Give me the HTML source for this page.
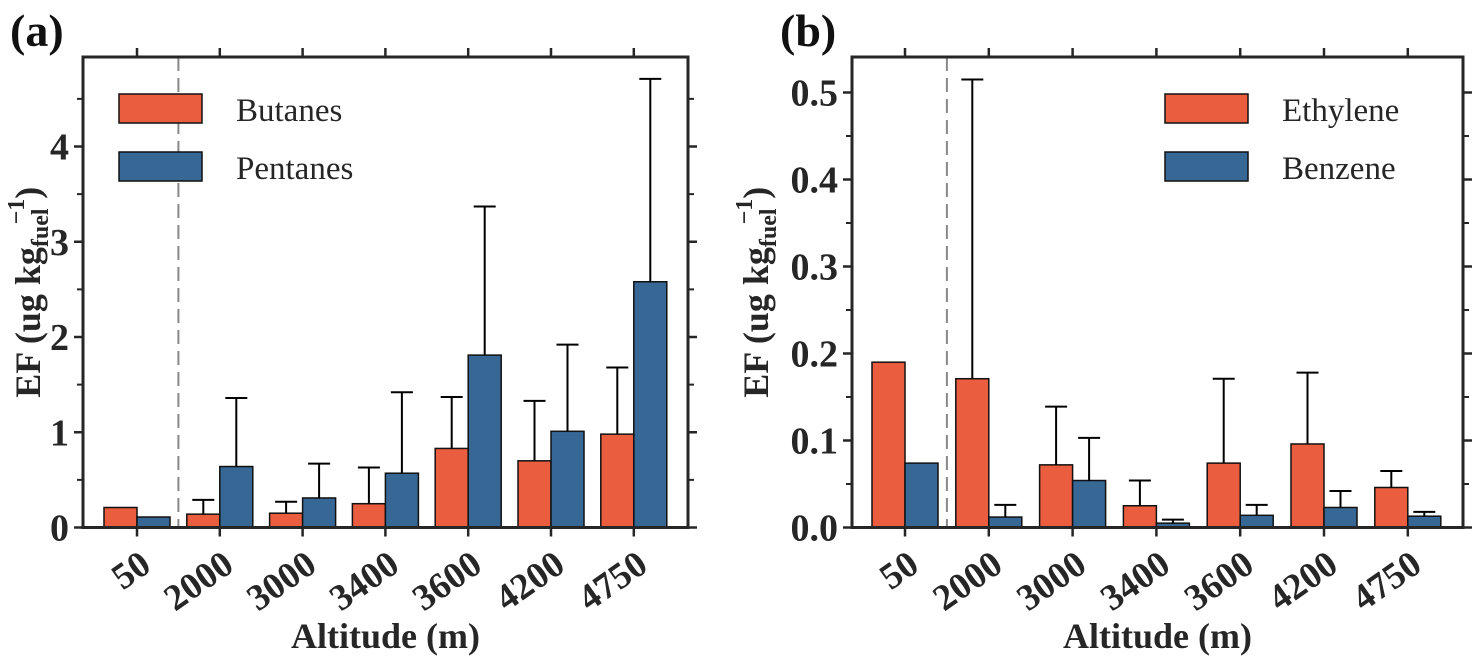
<!DOCTYPE html>
<html><head><meta charset="utf-8"><style>
html,body{margin:0;padding:0;background:#fff;}
svg text{font-family:"Liberation Serif","Times New Roman",serif;}
</style></head><body>
<svg id="chart" width="1477" height="660" viewBox="0 0 1477 660" xmlns="http://www.w3.org/2000/svg"></svg>
<script>
const categories = ["50","2000","3000","3400","3600","4200","4750"];
const butanes = [0.21,0.14,0.15,0.25,0.83,0.70,0.98];
const butanesErrTop = [null,0.29,0.27,0.63,1.37,1.33,1.68];
const pentanes = [0.11,0.64,0.31,0.57,1.81,1.01,2.58];
const pentanesErrTop = [null,1.36,0.67,1.42,3.37,1.92,4.71];
const ethylene = [0.19,0.171,0.072,0.025,0.074,0.096,0.046];
const ethyleneErrTop = [null,0.515,0.139,0.054,0.171,0.178,0.065];
const benzene = [0.074,0.012,0.054,0.005,0.014,0.023,0.013];
const benzeneErrTop = [null,0.026,0.103,0.009,0.026,0.042,0.018];
const ticksA = ["0","1","2","3","4"];
const ticksB = ["0.0","0.1","0.2","0.3","0.4","0.5"];

const svg = document.getElementById('chart');
const NS = 'http://www.w3.org/2000/svg';
const FF = '"Liberation Serif", serif';
function mk(tag, attrs, parent, text){
  const e = document.createElementNS(NS, tag);
  for (const k in attrs) e.setAttribute(k, attrs[k]);
  if (tag === 'text') e.setAttribute('font-family', FF);
  if (text !== undefined) e.textContent = text;
  (parent||svg).appendChild(e);
  return e;
}
const ORANGE = '#ea5e3f', BLUE = '#366795', INK = '#262626';

function panel(cfg){
  const g = mk('g', {});
  
  
  const L=cfg.left, R=cfg.right, T=57, B=527.5;
  const x = i => cfg.x0 + i*cfg.step;
  const y = v => B - v*cfg.scale;
  const dl = mk('line', {x1:(x(0)+x(1))/2, x2:(x(0)+x(1))/2, y1:T, y2:B, stroke:'#888', 'stroke-width':2, 'stroke-dasharray':'14,7'}, g);
  
  
  const bw = 33;
  const series = [[cfg.s1, cfg.e1, ORANGE, -1, cfg.n1],[cfg.s2, cfg.e2, BLUE, 0, cfg.n2]];
  series.forEach(([vals, errs, col, off, nm]) => {
    vals.forEach((v,i) => {
      const bx = x(i) + off*bw;
      const r = mk('rect', {x:bx, y:y(v), width:bw, height:B-y(v), fill:col, stroke:'#111', 'stroke-width':1.5}, g);
      
      
      if (errs[i] !== null){
        const cx = bx + bw/2;
        const eg = mk('g', {stroke:'#000', 'stroke-width':2}, g);
        
        
        mk('line', {x1:cx, x2:cx, y1:y(v), y2:y(errs[i])}, eg);
        mk('line', {x1:cx-11, x2:cx+11, y1:y(errs[i]), y2:y(errs[i])}, eg);
      }
    });
  });
  const fr = mk('rect', {x:L, y:T, width:R-L, height:B-T, fill:'none', stroke:INK, 'stroke-width':3}, g);
  
  
  categories.forEach((c,i) => {
    mk('line', {x1:x(i), x2:x(i), y1:B, y2:B+9, stroke:INK, 'stroke-width':2.5}, g);
    mk('line', {x1:x(i), x2:x(i), y1:T, y2:T-9, stroke:INK, 'stroke-width':2.5}, g);
    const t = mk('text', {x:0, y:0, 'font-size':37, 'font-weight':'bold', fill:INK, 'text-anchor':'end', transform:`translate(${x(i)+16},${B+42}) rotate(-35)`}, g, c);
    
    
  });
  cfg.ticks.forEach(lbl => {
    const v = parseFloat(lbl), yy = y(v);
    mk('line', {x1:L-9, x2:L, y1:yy, y2:yy, stroke:INK, 'stroke-width':2.5}, g);
    mk('line', {x1:R, x2:R+9, y1:yy, y2:yy, stroke:INK, 'stroke-width':2.5}, g);
    const t = mk('text', {x:L-14, y:yy+13, 'font-size':38, 'font-weight':'bold', fill:INK, 'text-anchor':'end'}, g, lbl);
    
    
  });
  for (let k=0;k<cfg.nMinor;k++){
    const v = (k+0.5)*cfg.major, yy=y(v);
    if (yy < T) break;
    mk('line', {x1:L-6, x2:L, y1:yy, y2:yy, stroke:INK, 'stroke-width':2}, g);
    mk('line', {x1:R, x2:R+6, y1:yy, y2:yy, stroke:INK, 'stroke-width':2}, g);
  }
  const lg = mk('g', {}, g);
  
  
  [[cfg.n1, ORANGE, 94],[cfg.n2, BLUE, 152]].forEach(([n,col,ly]) => {
    const e = mk('g', {}, lg);
    
    
    mk('rect', {x:cfg.legX, y:ly, width:83, height:29, fill:col, stroke:'#111', 'stroke-width':1.5}, e);
    mk('text', {x:cfg.legX+117, y:ly+27, 'font-size':33, fill:INK}, e, n);
  });
  const yt = mk('text', {x:0, y:0, 'font-size':36, 'font-weight':'bold', fill:INK, 'text-anchor':'middle', transform:`translate(${cfg.yTitleX},${(T+B)/2}) rotate(-90)`}, g);
  
  
  mk('tspan', {}, yt, 'EF (ug kg');
  mk('tspan', {'font-size':24, dy:8}, yt, 'fuel');
  mk('tspan', {'font-size':24, dy:-24, dx:-16}, yt, '−1');
  mk('tspan', {dy:16, dx:0}, yt, ')');
  const xt = mk('text', {x:(L+R)/2, y:648, 'font-size':36, 'font-weight':'bold', fill:INK, 'text-anchor':'middle'}, g, 'Altitude (m)');
  
  
  const pl = mk('text', {x:cfg.labX, y:46, 'font-size':46, 'font-weight':'bold', fill:'#111'}, g, cfg.label);
  
  
}
panel({name:'panel-a', left:83, right:688, x0:137, step:82.8, scale:95.25, s1:butanes, e1:butanesErrTop, s2:pentanes, e2:pentanesErrTop, n1:'Butanes', n2:'Pentanes', ticks:ticksA, major:1, nMinor:5, legX:119, yTitleX:40, labX:10, label:'(a)'});
panel({name:'panel-b', left:852, right:1463, x0:905, step:83.8, scale:870, s1:ethylene, e1:ethyleneErrTop, s2:benzene, e2:benzeneErrTop, n1:'Ethylene', n2:'Benzene', ticks:ticksB, major:0.1, nMinor:6, legX:1165, yTitleX:768, labX:780, label:'(b)'});
</script>
</body></html>
